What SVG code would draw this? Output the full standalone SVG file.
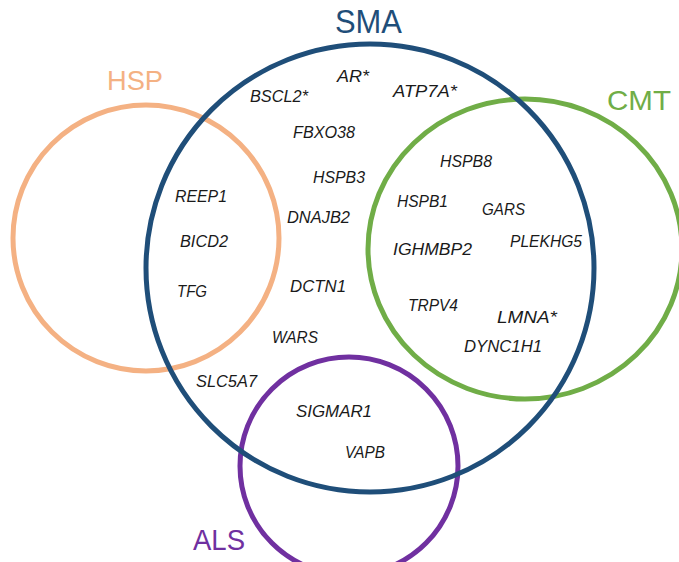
<svg xmlns="http://www.w3.org/2000/svg" width="679" height="562" viewBox="0 0 679 562">
  <style>
    .ring { fill: none; stroke-width: 5; }
    .title { font-family: "Liberation Sans", Arial, sans-serif; }
    .gene { font-family: "Liberation Sans", Arial, sans-serif; font-size: 16px; font-style: italic; fill: #1a1a1a; }
  </style>
  <rect width="679" height="562" fill="#ffffff"/>
  <g id="connectors"></g>
  <g id="HSP">
    <circle class="ring" cx="146" cy="238" r="133" stroke="#F4B183"/>
    <text class="title" x="107" y="90" fill="#F4B183" font-size="28" textLength="56" lengthAdjust="spacingAndGlyphs">HSP</text>
  </g>
  <g id="CMT">
    <ellipse class="ring" cx="525" cy="249" rx="157" ry="150" stroke="#70AD47"/>
    <text class="title" x="607" y="110" fill="#70AD47" font-size="28" textLength="64" lengthAdjust="spacingAndGlyphs">CMT</text>
  </g>
  <g id="ALS">
    <circle class="ring" cx="349" cy="466" r="109" stroke="#7030A0"/>
    <text class="title" x="193" y="550" fill="#7030A0" font-size="30" textLength="52" lengthAdjust="spacingAndGlyphs">ALS</text>
  </g>
  <g id="SMA">
    <circle class="ring" cx="370" cy="268" r="224" stroke="#1F4E79"/>
    <text class="title" x="335" y="33" fill="#1F4E79" font-size="34" textLength="67" lengthAdjust="spacingAndGlyphs">SMA</text>
  </g>
  <g id="genes">
    <text class="gene" x="337" y="82" textLength="32" lengthAdjust="spacingAndGlyphs">AR*</text>
    <text class="gene" x="393" y="97" textLength="64" lengthAdjust="spacingAndGlyphs">ATP7A*</text>
    <text class="gene" x="250" y="102" textLength="58" lengthAdjust="spacingAndGlyphs">BSCL2*</text>
    <text class="gene" x="293" y="138" textLength="62" lengthAdjust="spacingAndGlyphs">FBXO38</text>
    <text class="gene" x="313" y="183" textLength="52" lengthAdjust="spacingAndGlyphs">HSPB3</text>
    <text class="gene" x="287" y="223" textLength="63" lengthAdjust="spacingAndGlyphs">DNAJB2</text>
    <text class="gene" x="175" y="202" textLength="52" lengthAdjust="spacingAndGlyphs">REEP1</text>
    <text class="gene" x="180" y="247" textLength="48" lengthAdjust="spacingAndGlyphs">BICD2</text>
    <text class="gene" x="177" y="297" textLength="30" lengthAdjust="spacingAndGlyphs">TFG</text>
    <text class="gene" x="290" y="292" textLength="56" lengthAdjust="spacingAndGlyphs">DCTN1</text>
    <text class="gene" x="272" y="343" textLength="46" lengthAdjust="spacingAndGlyphs">WARS</text>
    <text class="gene" x="196" y="387" textLength="61" lengthAdjust="spacingAndGlyphs">SLC5A7</text>
    <text class="gene" x="296" y="417" textLength="76" lengthAdjust="spacingAndGlyphs">SIGMAR1</text>
    <text class="gene" x="345" y="458" textLength="40" lengthAdjust="spacingAndGlyphs">VAPB</text>
    <text class="gene" x="440" y="167" textLength="52" lengthAdjust="spacingAndGlyphs">HSPB8</text>
    <text class="gene" x="397" y="207" textLength="51" lengthAdjust="spacingAndGlyphs">HSPB1</text>
    <text class="gene" x="482" y="215" textLength="43" lengthAdjust="spacingAndGlyphs">GARS</text>
    <text class="gene" x="393" y="255" textLength="79" lengthAdjust="spacingAndGlyphs">IGHMBP2</text>
    <text class="gene" x="510" y="247" textLength="72" lengthAdjust="spacingAndGlyphs">PLEKHG5</text>
    <text class="gene" x="408" y="311" textLength="50" lengthAdjust="spacingAndGlyphs">TRPV4</text>
    <text class="gene" x="497" y="323" textLength="60" lengthAdjust="spacingAndGlyphs">LMNA*</text>
    <text class="gene" x="464" y="352" textLength="78" lengthAdjust="spacingAndGlyphs">DYNC1H1</text>
  </g>
</svg>
